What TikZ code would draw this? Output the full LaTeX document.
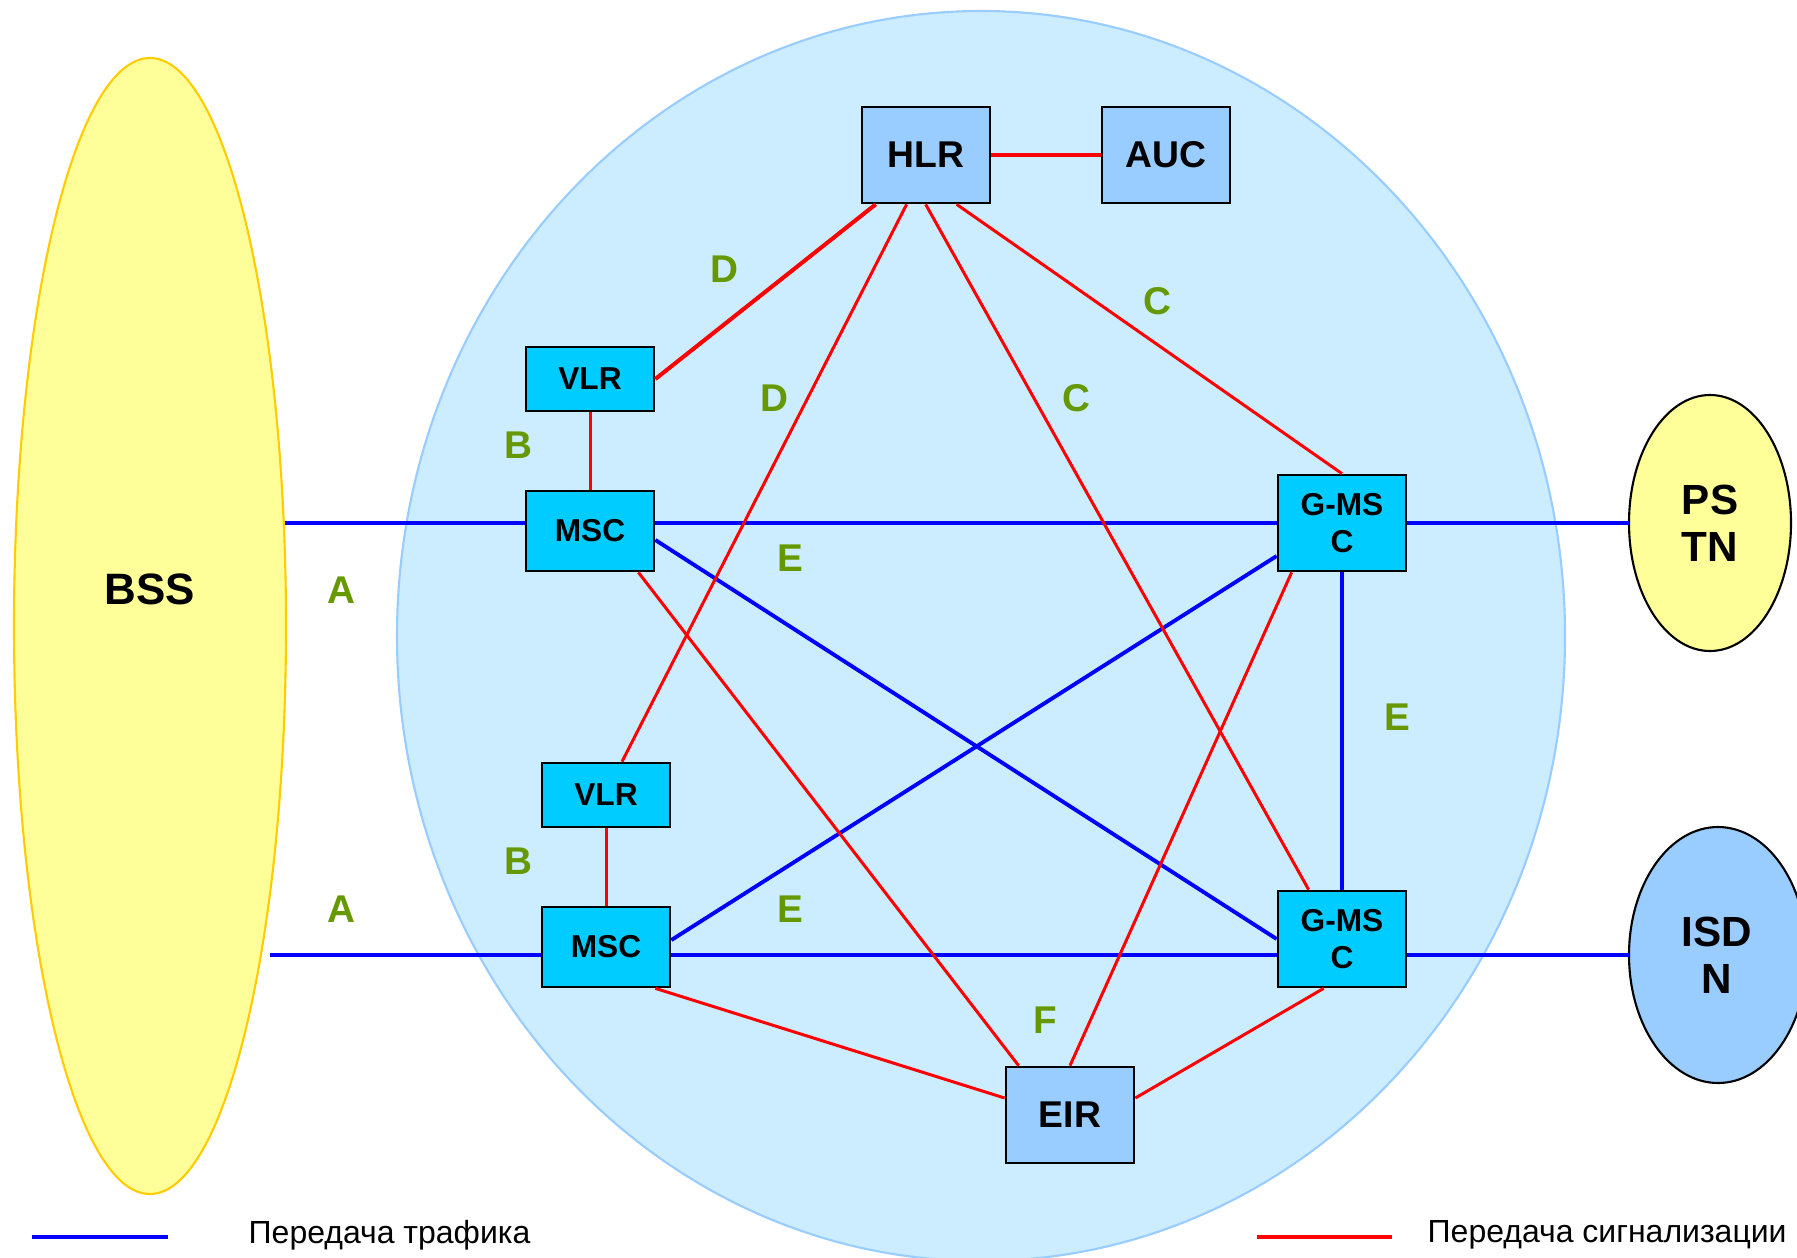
\documentclass[tikz,border=0pt]{standalone}
\usepackage{fontspec}
\setmainfont{Liberation Sans}
\usetikzlibrary{calc}

\definecolor{corefill}{HTML}{CCECFF}
\definecolor{coreline}{HTML}{99CCFF}
\definecolor{netyellow}{HTML}{FFFF99}
\definecolor{bssline}{HTML}{FFCC00}
\definecolor{boxcyan}{HTML}{00CCFF}
\definecolor{boxblue}{HTML}{99CCFF}
\definecolor{ifgreen}{HTML}{669900}

\tikzset{
  unitbox/.style={draw=black, line width=0.75pt, inner sep=0pt, align=center,
    font=\fontsize{9}{10.6}\selectfont\bfseries},
  cyanbox/.style={unitbox, fill=boxcyan},
  dbbox/.style={unitbox, fill=boxblue, minimum width=1.28cm, minimum height=0.96cm,
    font=\fontsize{10.6}{12}\selectfont\bfseries},
  traffic/.style={draw=blue, line width=1.1pt},
  signal/.style={draw=red, line width=0.85pt},
  signalthick/.style={draw=red, line width=1.15pt},
  iflabel/.style={text=ifgreen, font=\fontsize{11}{12}\selectfont\bfseries},
  netname/.style={align=center, font=\fontsize{12}{13.5}\selectfont\bfseries},
  legendtext/.style={anchor=west, inner sep=0pt, font=\fontsize{9.1}{10}\selectfont},
}

\begin{document}
\begin{tikzpicture}[x=0.01cm, y=-0.01cm]
  \useasboundingbox (0,0) rectangle (1797,1257);
  \clip (0,0) rectangle (1797,1257);
  \fill[white] (0,0) rectangle (1797,1257);

  % core network area
  \draw[fill=corefill, draw=coreline, line width=0.6pt] (981,636) ellipse [x radius=584, y radius=625];

  % external networks
  \draw[draw=bssline, fill=netyellow, line width=0.6pt] (150,626) ellipse [x radius=136, y radius=568];
  \node[netname, font=\fontsize{12.5}{14}\selectfont\bfseries] (bss) at (150,589) {BSS};
  \draw[draw=black, fill=netyellow, line width=0.6pt] (1710,523) ellipse [x radius=81, y radius=128];
  \node[netname] (pstn) at (1710,523) {PS\\TN};
  \draw[draw=black, fill=boxblue, line width=0.6pt] (1718,955) ellipse [x radius=89, y radius=128];
  \node[netname] (isdn) at (1717,955) {ISD\\N};
  \coordinate (pstnw) at (1629,523);
  \coordinate (isdnw) at (1629,955);
  \coordinate (bssa1) at (285,523);
  \coordinate (bssa2) at (270,955);

  % network elements
  \node[dbbox] (hlr) at (926,155) {HLR};
  \node[dbbox] (auc) at (1166,155) {AUC};
  \node[cyanbox, minimum width=1.28cm, minimum height=0.64cm] (vlr1) at (590,379) {VLR};
  \node[cyanbox, minimum width=1.28cm, minimum height=0.80cm] (msc1) at (590,531) {MSC};
  \node[cyanbox, minimum width=1.28cm, minimum height=0.64cm] (vlr2) at (606,795) {VLR};
  \node[cyanbox, minimum width=1.28cm, minimum height=0.80cm] (msc2) at (606,947) {MSC};
  \node[cyanbox, minimum width=1.28cm, minimum height=0.96cm] (gmsc1) at (1342,523) {G-MS\\C};
  \node[cyanbox, minimum width=1.28cm, minimum height=0.96cm] (gmsc2) at (1342,939) {G-MS\\C};
  \node[dbbox] (eir) at (1070,1115) {EIR};

  % traffic connections
  \draw[traffic] (bssa1) -- (bssa1 -| msc1.west);
  \draw[traffic] (msc1.east |- gmsc1.west) -- (gmsc1.west);
  \draw[traffic] (gmsc1.east) -- (pstnw);
  \draw[traffic] (bssa2) -- (bssa2 -| msc2.west);
  \draw[traffic] (msc2.east |- bssa2) -- (gmsc2.west |- bssa2);
  \draw[traffic] (gmsc2.east |- bssa2) -- (isdnw);
  \draw[traffic] ($(msc1.east)+(0,9)$) -- (gmsc2.west);
  \draw[traffic] ($(gmsc1.west)+(0,33)$) -- ($(msc2.east)+(0,-7)$);
  \draw[traffic] (gmsc1.south) -- (gmsc2.north);

  % signalling connections
  \draw[signalthick] (hlr.east) -- (auc.west);
  \draw[signalthick] ($(hlr.south west)+(15,0)$) -- (vlr1.east);
  \draw[signal] ($(hlr.south west)+(46,0)$) -- ($(vlr2.north)+(16,0)$);
  \draw[signal] ($(hlr.south west)+(65,0)$) -- ($(gmsc2.north west)+(32,0)$);
  \draw[signal] ($(hlr.south west)+(96,0)$) -- (gmsc1.north);
  \draw[signal] (vlr1.south) -- (msc1.north);
  \draw[signal] (vlr2.south) -- (msc2.north);
  \draw[signal] ($(msc1.south east)+(-17,0)$) -- ($(eir.north west)+(14,0)$);
  \draw[signal] ($(gmsc1.south west)+(15,0)$) -- (eir.north);
  \draw[signal] ($(msc2.south east)+(-16,0)$) -- ($(eir.west)+(0,-17)$);
  \draw[signal] ($(gmsc2.south west)+(47,0)$) -- ($(eir.east)+(0,-17)$);

  % interface labels
  \node[iflabel] (ld1) at (724,269) {D};
  \node[iflabel] (ld2) at (774,398) {D};
  \node[iflabel] (lc1) at (1157,301) {C};
  \node[iflabel] (lc2) at (1076,398) {C};
  \node[iflabel] (lb1) at (518,445) {B};
  \node[iflabel] (lb2) at (518,861) {B};
  \node[iflabel] (la1) at (341,590) {A};
  \node[iflabel] (la2) at (341,909) {A};
  \node[iflabel] (le1) at (790,558) {E};
  \node[iflabel] (le2) at (790,909) {E};
  \node[iflabel] (le3) at (1397,717) {E};
  \node[iflabel] (lf) at (1045,1020) {F};

  % legend
  \coordinate (lgb1) at (32,1237);
  \coordinate (lgb2) at (168,1237);
  \draw[traffic] (lgb1) -- (lgb2);
  \node[legendtext] (lgbt) at (248,1235) {Передача трафика};
  \coordinate (lgr1) at (1257,1237);
  \coordinate (lgr2) at (1392,1237);
  \draw[draw=red, line width=1.1pt] (lgr1) -- (lgr2);
  \node[legendtext] (lgrt) at (1427,1235) {Передача сигнализации};
\end{tikzpicture}
\end{document}
